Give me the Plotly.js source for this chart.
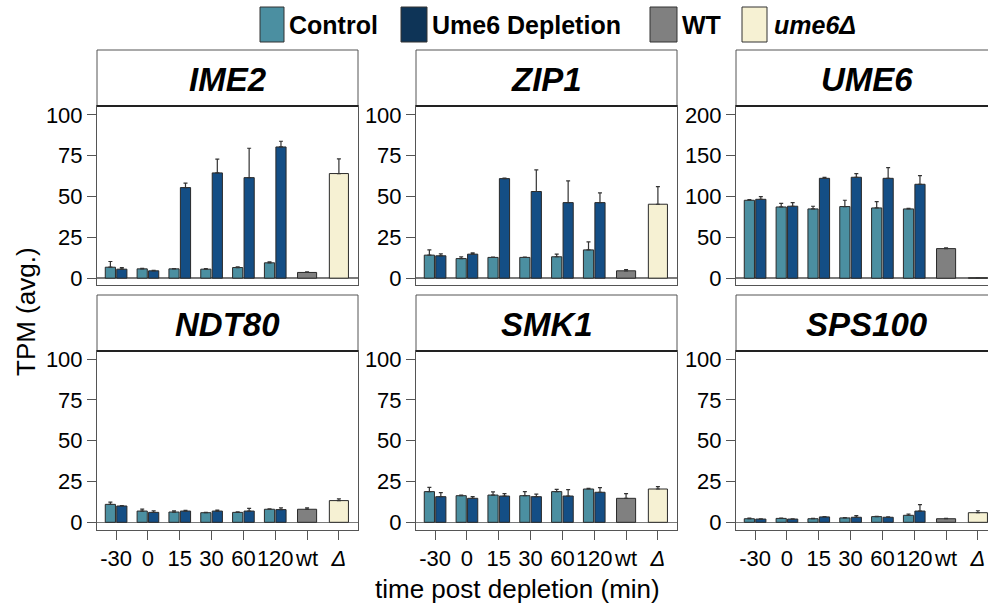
<!DOCTYPE html>
<html>
<head>
<meta charset="utf-8">
<script src="https://cdn.plot.ly/plotly-3.0.1.min.js"></script>
<style>
  html, body { margin: 0; padding: 0; overflow: hidden; background: #fff; }
  #chart { width: 1000px; height: 605px; }
</style>
</head>
<body>
<div id="chart"></div>
<script>
// ---------------- data ----------------
const categories = ['-30', '0', '15', '30', '60', '120', 'wt', 'Δ'];
const timeLabels = ['-30', '0', '15', '30', '60', '120'];
const genes = ['IME2', 'ZIP1', 'UME6', 'NDT80', 'SMK1', 'SPS100'];

const controlMean = [
  [6.7, 5.7, 5.7, 5.5, 6.5, 9.4],
  [14.1, 12.0, 12.7, 12.7, 13.1, 17.3],
  [95.5, 87.3, 84.9, 87.8, 86.1, 84.9],
  [11.0, 6.9, 6.3, 5.9, 6.1, 8.0],
  [18.8, 16.3, 16.7, 16.3, 18.8, 20.4],
  [2.2, 2.4, 2.2, 2.7, 3.5, 4.3]
];
const controlErr = [
  [3.5, 0.3, 0.2, 0.3, 0.4, 0.6],
  [3.2, 1.0, 0.2, 0.2, 1.6, 4.9],
  [0.8, 4.5, 3.3, 7.7, 7.8, 0.8],
  [1.4, 1.2, 0.8, 0.2, 0.3, 0.3],
  [2.6, 0.4, 1.9, 2.5, 1.4, 0.4],
  [0.4, 0.2, 0.2, 0.2, 0.2, 0.8]
];
const depletionMean = [
  [5.5, 4.5, 55.5, 64.5, 61.6, 80.4],
  [13.7, 14.7, 61.0, 53.1, 46.3, 46.3],
  [96.7, 88.2, 122.4, 123.7, 122.4, 115.1],
  [10.0, 6.1, 6.9, 6.9, 6.9, 7.8],
  [15.7, 14.7, 16.1, 15.7, 16.1, 18.4],
  [2.0, 2.0, 3.3, 3.1, 3.1, 6.9]
];
const depletionErr = [
  [1.0, 0.3, 2.7, 8.4, 18.0, 3.5],
  [1.2, 0.8, 0.3, 13.2, 13.3, 5.9],
  [3.3, 4.5, 1.2, 4.5, 13.1, 10.6],
  [0.3, 1.0, 0.4, 0.6, 1.7, 1.0],
  [2.5, 1.0, 1.5, 1.6, 3.9, 2.8],
  [0.2, 0.2, 0.2, 1.0, 0.2, 3.9]
];
const wtMean = [3.5, 4.5, 36.3, 8.0, 14.7, 2.2];
const wtErr = [0.3, 0.8, 0.8, 0.8, 2.9, 0.3];
const deltaMean = [64.1, 45.3, 0.5, 13.3, 20.4, 5.9];
const deltaErr = [9.0, 10.8, 0.0, 1.0, 1.4, 1.2];

const yTickVals = [
  [0, 25, 50, 75, 100], [0, 25, 50, 75, 100], [0, 50, 100, 150, 200],
  [0, 25, 50, 75, 100], [0, 25, 50, 75, 100], [0, 25, 50, 75, 100]
];
const legendLabels = ['<b>Control</b>', '<b>Ume6 Depletion</b>', '<b>WT</b>', '<b><i>ume6Δ</i></b>'];

// ---------------- styles ----------------
const FONT = 'Liberation Sans, Arial, Helvetica, sans-serif';
const W = 1000, H = 605;
const colControl = '#4b8fa1';
const colDepl = '#144e85';
const colDeplLegend = '#0e3457';
const colWT = '#808080';
const colDelta = '#f6f1d3';
const outline = '#2a2a2a';
const legendColors = [colControl, colDeplLegend, colWT, colDelta];

const colX = [[97, 358], [416, 677], [736, 997]];
const rowY = [[106, 285], [351, 530]];
const stripH = 56;
const yRanges = [
  [-4.2, 105.5], [-4.2, 105.5], [-8.3, 211],
  [-4.7, 104.9], [-4.7, 104.9], [-4.7, 104.9]
];

const px = v => v / W;
const py = v => 1 - v / H;

const traces = [];
const layout = {
  width: W, height: H,
  margin: {l: 0, r: 0, t: 0, b: 0},
  paper_bgcolor: '#fff', plot_bgcolor: '#fff',
  barmode: 'overlay',
  showlegend: false,
  font: {family: FONT, color: '#000'},
  shapes: [], annotations: []
};

function errObj(vals) {
  return {type: 'data', symmetric: false, array: vals, arrayminus: vals.map(() => 0),
          color: '#333', thickness: 1.2, width: 2};
}

genes.forEach((g, i) => {
  const sfx = i === 0 ? '' : String(i + 1);
  const xa = 'x' + sfx, ya = 'y' + sfx;
  const row = i < 3 ? 0 : 1, col = i % 3;
  const barLine = {color: outline, width: 1};

  traces.push({
    type: 'bar', x: timeLabels, y: controlMean[i], xaxis: xa, yaxis: ya,
    offset: -0.34, width: 0.32, marker: {color: colControl, line: barLine},
    error_y: errObj(controlErr[i])
  });
  traces.push({
    type: 'bar', x: timeLabels, y: depletionMean[i], xaxis: xa, yaxis: ya,
    offset: 0.02, width: 0.32, marker: {color: colDepl, line: barLine},
    error_y: errObj(depletionErr[i])
  });
  traces.push({
    type: 'bar', x: [categories[6]], y: [wtMean[i]], xaxis: xa, yaxis: ya,
    offset: -0.3, width: 0.6, marker: {color: colWT, line: barLine},
    error_y: errObj([wtErr[i]])
  });
  traces.push({
    type: 'bar', x: [categories[7]], y: [deltaMean[i]], xaxis: xa, yaxis: ya,
    offset: -0.3, width: 0.6, marker: {color: colDelta, line: barLine},
    error_y: errObj([deltaErr[i]])
  });

  layout['xaxis' + sfx] = {
    domain: [px(colX[col][0]), px(colX[col][1])],
    anchor: ya, type: 'category',
    categoryorder: 'array', categoryarray: categories,
    range: [-0.6, 7.6], fixedrange: true,
    showline: true, mirror: true, linecolor: '#555', linewidth: 1,
    showgrid: false, zeroline: false,
    tickmode: 'array', tickvals: categories,
    ticktext: categories.map(c => c === 'Δ' ? '<i>Δ</i>' : c),
    ticks: row === 1 ? 'outside' : '', ticklen: 9, tickwidth: 1, tickcolor: '#555',
    showticklabels: row === 1, tickangle: 0,
    tickfont: {family: FONT, size: 22, color: '#000'}
  };
  layout['yaxis' + sfx] = {
    domain: [py(rowY[row][1]), py(rowY[row][0])],
    anchor: xa, range: yRanges[i], fixedrange: true,
    showline: true, mirror: true, linecolor: '#555', linewidth: 1,
    showgrid: false,
    zeroline: true, zerolinecolor: '#7a7a7a', zerolinewidth: 1.6,
    tickmode: 'array', tickvals: yTickVals[i],
    ticks: 'outside', ticklen: 9, tickwidth: 1, tickcolor: '#555',
    tickfont: {family: FONT, size: 22, color: '#000'}
  };

  // strip box
  const plotH = rowY[row][1] - rowY[row][0];
  layout.shapes.push({
    type: 'rect', xref: xa + ' domain', yref: ya + ' domain',
    x0: 0, x1: 1, y0: 1, y1: 1 + stripH / plotH,
    line: {color: '#555', width: 1}, fillcolor: '#fff', layer: 'above'
  });
  layout.shapes.push({
    type: 'line', xref: xa + ' domain', yref: ya + ' domain',
    x0: 0, x1: 1, y0: 1, y1: 1,
    line: {color: '#222', width: 1.8}, layer: 'above'
  });
  layout.annotations.push({
    xref: xa + ' domain', yref: ya + ' domain',
    x: 0.5, y: 1 + (stripH / 2 - 1) / plotH, xanchor: 'center', yanchor: 'middle',
    text: '<b><i>' + g + '</i></b>', showarrow: false,
    font: {family: FONT, size: 33, color: '#000'}
  });
});

// axis titles
layout.annotations.push({
  xref: 'paper', yref: 'paper', x: px(26), y: py(312),
  xanchor: 'center', yanchor: 'middle', textangle: -90,
  text: 'TPM (avg.)', showarrow: false, font: {family: FONT, size: 26, color: '#000'}
});
layout.annotations.push({
  xref: 'paper', yref: 'paper', x: px(517), y: py(589),
  xanchor: 'center', yanchor: 'middle',
  text: 'time post depletion (min)', showarrow: false, font: {family: FONT, size: 26, color: '#000'}
});

// legend (drawn manually)
const legBoxX = [[260, 284], [401, 427], [650, 677], [742, 767]];
const legTextX = [287, 430, 680, 772];
legendLabels.forEach((lab, k) => {
  layout.shapes.push({
    type: 'rect', xref: 'paper', yref: 'paper',
    x0: px(legBoxX[k][0]), x1: px(legBoxX[k][1]), y0: py(42), y1: py(7),
    fillcolor: legendColors[k], line: {color: '#333', width: 1}
  });
  layout.annotations.push({
    xref: 'paper', yref: 'paper', x: px(legTextX[k]), y: py(25),
    xanchor: 'left', yanchor: 'middle', text: lab, showarrow: false,
    font: {family: FONT, size: 25, color: '#000'}
  });
});

Plotly.newPlot('chart', traces, layout, {staticPlot: true, displayModeBar: false});
</script>
</body>
</html>
